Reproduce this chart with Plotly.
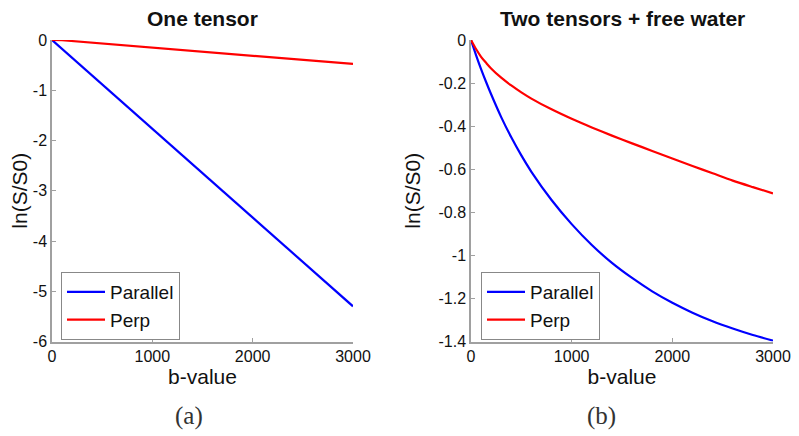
import plotly.graph_objects as go

# ---- data ----
b_one = [0, 100, 3000]
one_parallel = [0, -0.177, -5.30]
one_perp = [0, -0.005, -0.477]

b_two = [0, 50, 100, 150, 200, 300, 400, 500, 600, 800, 1000, 1200, 1400, 1600,
         1800, 2000, 2200, 2400, 2600, 2800, 3000]
two_parallel = [0, -0.07, -0.135, -0.195, -0.252, -0.358, -0.452, -0.536, -0.612,
                -0.743, -0.855, -0.952, -1.035, -1.105, -1.167, -1.22, -1.266,
                -1.306, -1.34, -1.37, -1.396]
two_perp = [0, -0.042, -0.078, -0.106, -0.132, -0.175, -0.211, -0.243, -0.272,
            -0.322, -0.366, -0.406, -0.444, -0.48, -0.515, -0.55, -0.585,
            -0.619, -0.653, -0.683, -0.712]

x_ticks = [0, 1000, 2000, 3000]
x_ticklabels = ["0", "1000", "2000", "3000"]
y1_ticks = [0, -1, -2, -3, -4, -5, -6]
y1_ticklabels = ["0", "-1", "-2", "-3", "-4", "-5", "-6"]
y2_ticks = [0, -0.2, -0.4, -0.6, -0.8, -1.0, -1.2, -1.4]
y2_ticklabels = ["0", "-0.2", "-0.4", "-0.6", "-0.8", "-1", "-1.2", "-1.4"]

titles = ["One tensor", "Two tensors + free water"]
captions = ["(a)", "(b)"]
series_names = ["Parallel", "Perp"]

BLUE = "#0000ff"
RED = "#ff0000"
AXC = "#a0a0a0"
FONT = "Liberation Sans, Arial, sans-serif"

fig = go.Figure()
fig.add_trace(go.Scatter(x=b_one, y=one_parallel, mode="lines", name=series_names[0],
                         line=dict(color=BLUE, width=2.2), xaxis="x", yaxis="y", legend="legend"))
fig.add_trace(go.Scatter(x=b_one, y=one_perp, mode="lines", name=series_names[1],
                         line=dict(color=RED, width=2.2), xaxis="x", yaxis="y", legend="legend"))
fig.add_trace(go.Scatter(x=b_two, y=two_parallel, mode="lines", name=series_names[0],
                         line=dict(color=BLUE, width=2.2, shape="spline", smoothing=0.8),
                         xaxis="x2", yaxis="y2", legend="legend2"))
fig.add_trace(go.Scatter(x=b_two, y=two_perp, mode="lines", name=series_names[1],
                         line=dict(color=RED, width=2.2, shape="spline", smoothing=0.8),
                         xaxis="x2", yaxis="y2", legend="legend2"))

# page body has an 8px margin, so the figure is drawn 8px smaller and offsets are shifted
W, H = 791, 428
yd = [1 - 333.5 / H, 1 - 32 / H]

def xax(domain, anchor):
    return dict(domain=domain, anchor=anchor, range=[0, 3000], tickvals=x_ticks,
                ticktext=x_ticklabels, showgrid=False, zeroline=False, showline=True,
                automargin=False,
                linecolor=AXC, linewidth=1.5, ticks="inside", ticklen=4, tickcolor=AXC,
                tickfont=dict(size=16, color="#111", family=FONT),
                title=dict(text="b-value", font=dict(size=21, color="#111", family=FONT), standoff=4))

def yax(domain, anchor, rng, tv, tt, standoff):
    return dict(domain=domain, anchor=anchor, range=rng, tickvals=tv, ticktext=tt,
                showgrid=False, zeroline=False, showline=True, linecolor=AXC, linewidth=1.5,
                automargin=False,
                ticks="inside", ticklen=4, tickcolor=AXC,
                tickfont=dict(size=16, color="#111", family=FONT),
                title=dict(text="ln(S/S0)", font=dict(size=21, color="#111", family=FONT),
                           standoff=standoff))

legend_common = dict(bordercolor="#888", borderwidth=1, bgcolor="white",
                     font=dict(size=19, color="#111", family=FONT),
                     xanchor="left", yanchor="top", tracegroupgap=0, itemwidth=38)

fig.update_layout(
    width=W, height=H, margin=dict(l=0, r=0, t=0, b=0),
    paper_bgcolor="white", plot_bgcolor="white",
    xaxis=xax([44 / W, 345 / W], "y"),
    yaxis=yax(yd, "x", [-6, 0], y1_ticks, y1_ticklabels, 18),
    xaxis2=xax([463 / W, 765 / W], "y2"),
    yaxis2=yax(yd, "x2", [-1.4, 0], y2_ticks, y2_ticklabels, 12),
    legend=dict(x=53 / W, y=1 - 264 / H, **legend_common),
    legend2=dict(x=473 / W, y=1 - 264 / H, **legend_common),
    showlegend=True,
)

title_x = [194.5 / W, 614 / W]
for t, xc in zip(titles, title_x):
    fig.add_annotation(text="<b>%s</b>" % t, x=xc, y=1 - 11 / H, xref="paper", yref="paper",
                       showarrow=False, xanchor="center", yanchor="middle",
                       font=dict(size=21, color="#111", family=FONT))

cap_x = [181 / W, 593 / W]
for c, xc in zip(captions, cap_x):
    fig.add_annotation(text=c, x=xc, y=1 - 408 / H, xref="paper", yref="paper",
                       showarrow=False, xanchor="center", yanchor="middle",
                       font=dict(size=25, color="#333", family="Liberation Serif, serif"))

fig.write_html("out.html")
